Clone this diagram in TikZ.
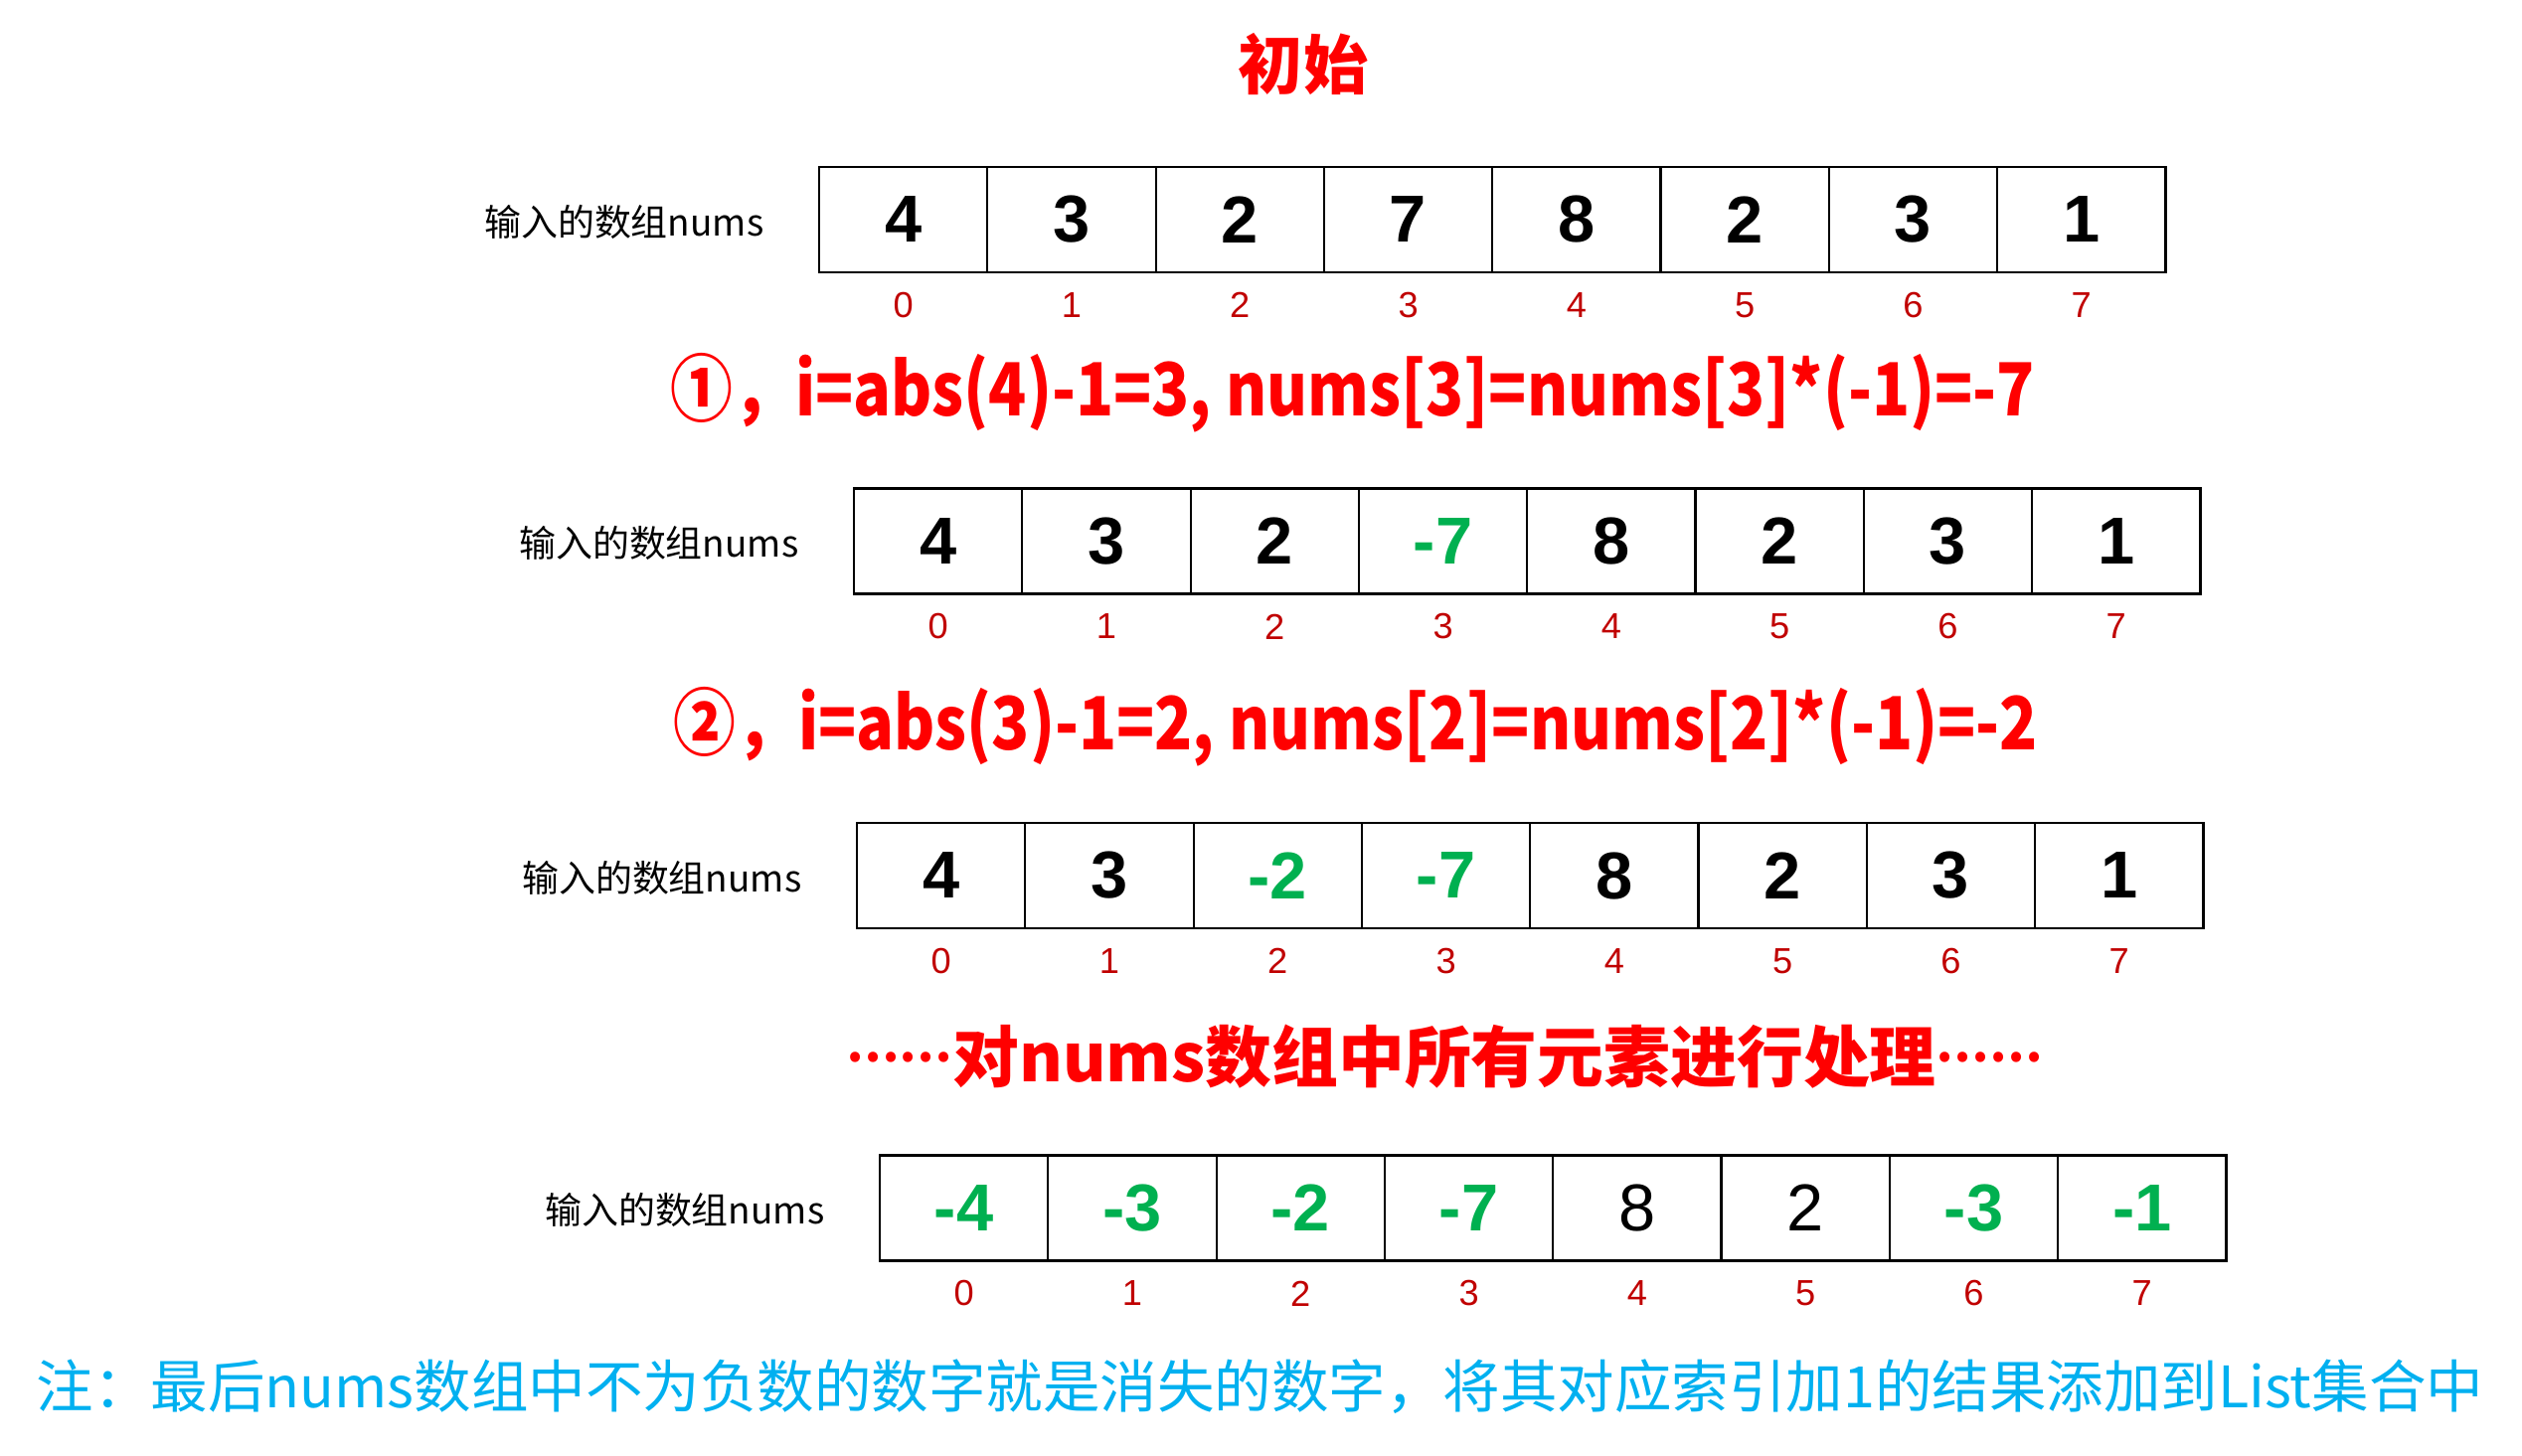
\documentclass[tikz,border=0pt]{standalone}
\usepackage{fontspec}
\setmainfont{Liberation Sans}
\newfontfamily\cjk{Noto Sans CJK SC}
\newfontfamily\cjkn{Noto Sans CJK SC}[FakeStretch=0.85]
\definecolor{numgreen}{HTML}{00B050}
\definecolor{idxred}{HTML}{C00000}
\definecolor{hred}{HTML}{FF0000}
\definecolor{notecyan}{HTML}{00B0F0}
\newcommand{\drawarr}[4]{%
  \node[lab, anchor=east] (#1l) at (#2-55, #3+2) {输入的数组nums};
  \foreach \v/\c/\w [count=\i from 0] in {#4} {
    \node[cell, text=\c, font=\w\fontsize{19}{19}\selectfont] (#1c\i) at ({#2+84.65+169.3*\i}, #3) {\v};
    \node[idx] (#1i\i) at ({#2+84.65+169.3*\i}, #3+86) {\i};
  }
}
\newcommand{\mydots}{\raisebox{0.3em}{\fontsize{13.5}{13.5}\selectfont\bfseries ……}}
\begin{document}
\begin{tikzpicture}[x=0.01cm,y=-0.01cm,
  cell/.style={draw=black, line width=0.6pt, minimum width=1.693cm, minimum height=1.06cm, inner sep=0pt},
  idx/.style={text=idxred, font=\fontsize{10.3}{10.3}\selectfont, inner sep=0pt},
  lab/.style={font=\cjk\fontsize{10.5}{10.5}\selectfont, inner sep=0pt},
  head/.style={text=hred, font=\cjkn\bfseries\fontsize{21}{21}\selectfont, inner sep=0pt},
]
\useasboundingbox (0,0) rectangle (2537,1464);
\node[text=hred, font=\cjk\bfseries\fontsize{18.5}{18.5}\selectfont, inner sep=0pt] (title) at (1311,65) {初始};
\drawarr{a}{824}{221}{4/black/\bfseries,3/black/\bfseries,2/black/\bfseries,7/black/\bfseries,8/black/\bfseries,2/black/\bfseries,3/black/\bfseries,1/black/\bfseries}
\node[head] (s1) at (1361,395) {①，i=abs(4)-1=3, nums[3]=nums[3]*(-1)=-7};
\drawarr{b}{859}{544.5}{4/black/\bfseries,3/black/\bfseries,2/black/\bfseries,-7/numgreen/\bfseries,8/black/\bfseries,2/black/\bfseries,3/black/\bfseries,1/black/\bfseries}
\node[head] (s2) at (1364,731) {②，i=abs(3)-1=2, nums[2]=nums[2]*(-1)=-2};
\drawarr{c}{862}{881}{4/black/\bfseries,3/black/\bfseries,-2/numgreen/\bfseries,-7/numgreen/\bfseries,8/black/\bfseries,2/black/\bfseries,3/black/\bfseries,1/black/\bfseries}
\node[text=hred, font=\cjk\bfseries\fontsize{19}{19}\selectfont, inner sep=0pt] (s3) at (1453,1063) {\mydots 对nums数组中所有元素进行处理\mydots};
\drawarr{d}{885}{1215.5}{-4/numgreen/\bfseries,-3/numgreen/\bfseries,-2/numgreen/\bfseries,-7/numgreen/\bfseries,8/black/\mdseries,2/black/\mdseries,-3/numgreen/\bfseries,-1/numgreen/\bfseries}
\node[text=notecyan, font=\cjk\fontsize{16.35}{16.35}\selectfont, inner sep=0pt, anchor=west] (note) at (36,1395) {注：最后nums数组中不为负数的数字就是消失的数字，将其对应索引加1的结果添加到List集合中};
\end{tikzpicture}
\end{document}
